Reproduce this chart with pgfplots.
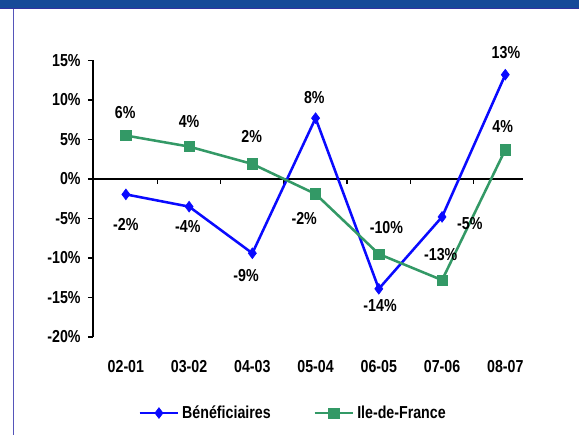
\documentclass[border=0pt]{standalone}
\usepackage{fontspec}
\setmainfont{Liberation Sans}[FakeStretch=0.82]
\usepackage{pgfplots}
\pgfplotsset{compat=1.18}
\usepackage{pgfplotstable}
\definecolor{benblue}{RGB}{10,10,255}
\definecolor{idfgreen}{RGB}{51,153,102}
\definecolor{band}{RGB}{22,74,152}
\definecolor{bandline}{RGB}{50,50,160}
\definecolor{frame}{RGB}{85,85,185}
\newcommand{\lblfont}{\bfseries\fontsize{13}{15}\selectfont}
\pgfplotstableread{
x y
0 -1.95
1 -3.5
2 -9.4
3 7.7
4 -13.9
5 -4.8
6 13.2
}\ben
\pgfplotstableread{
x y
0 5.5
1 4.1
2 1.9
3 -1.9
4 -9.5
5 -12.8
6 3.7
}\idf
\pgfplotstableread{
x y label
0 -5.8 -2\%
0.98 -6.0 -4\%
1.9 -12.2 -9\%
2.98 10.3 8\%
4.02 -16.0 -14\%
5.44 -5.6 -5\%
6.01 15.95 13\%
-0.01 8.4 6\%
1.0 7.25 4\%
1.99 5.35 2\%
2.82 -5.0 -2\%
4.12 -6.2 -10\%
4.98 -9.6 -13\%
5.96 6.7 4\%
}\labels
\begin{document}
\begin{tikzpicture}
\useasboundingbox (-69.75pt,-73.5pt) rectangle (364.5pt,252.75pt);
\fill[white] (-69.75pt,-73.5pt) rectangle (364.5pt,252.75pt);
\fill[band] (-69.75pt,246.5pt) rectangle (364.5pt,252.75pt);
\draw[bandline, line width=0.8pt] (-69.75pt,246.3pt) -- (364.5pt,246.3pt);
\draw[frame, line width=1.4pt] (-59.6pt,-73.5pt) -- (-59.6pt,245.9pt);
\begin{axis}[
  at={(0,0)}, anchor=south west,
  scale only axis,
  width=322.5pt, height=207.4pt,
  xmin=-0.52, xmax=6.28,
  ymin=-20, ymax=15,
  clip=false,
  axis x line*=bottom,
  axis y line*=left,
  x axis line style={draw=none},
  y axis line style={line width=1.1pt, -},
  xtick={0,...,6},
  xticklabels={02-01,03-02,04-03,05-04,06-05,07-06,08-07},
  xtick style={draw=none},
  xticklabel style={font=\lblfont, anchor=center, yshift=-18.5pt},
  ytick={-20,-15,-10,-5,0,5,10,15},
  yticklabels={-20\%,-15\%,-10\%,-5\%,0\%,5\%,10\%,15\%},
  ytick style={line width=1.1pt, black},
  tick align=outside,
  major tick length=3.75pt,
  yticklabel style={font=\lblfont, anchor=east, xshift=-2pt},
  legend style={at={(axis description cs:0.466,-0.275)}, anchor=center, draw=none,
    fill=none, legend columns=2, font=\lblfont,
    /tikz/every even column/.append style={column sep=30pt},
    legend cell align=left, inner sep=0pt},
  legend image code/.code={\draw[mark repeat=2,mark phase=2] plot coordinates {(0pt,0pt) (14.5pt,0pt) (29pt,0pt)};},
]
\draw[black, line width=1.1pt] (axis cs:-0.52,0) -- (axis cs:6.28,0);
\pgfplotsinvokeforeach{0.5,1.5,2.5,3.5,4.5,5.5}{
  \draw[black, line width=1.1pt] (axis cs:#1,0) -- ([yshift=-3.75pt]axis cs:#1,0);
}
\addplot[benblue, line width=1.9pt, mark=diamond*, mark size=4pt,
  mark options={fill=benblue, draw=benblue, line width=0.5pt}] table[x=x,y=y] {\ben};
\addlegendentry{Bénéficiaires}
\addplot[idfgreen, line width=1.9pt, mark=square*, mark size=3.9pt,
  mark options={fill=idfgreen, draw=idfgreen, line width=0.5pt}] table[x=x,y=y] {\idf};
\addlegendentry{Ile-de-France}
\addplot[draw=none, mark=none, nodes near coords, point meta=explicit symbolic,
  nodes near coords style={anchor=center, font=\lblfont, black},
  forget plot] table[x=x,y=y,meta=label] {\labels};
\end{axis}
\end{tikzpicture}
\end{document}
